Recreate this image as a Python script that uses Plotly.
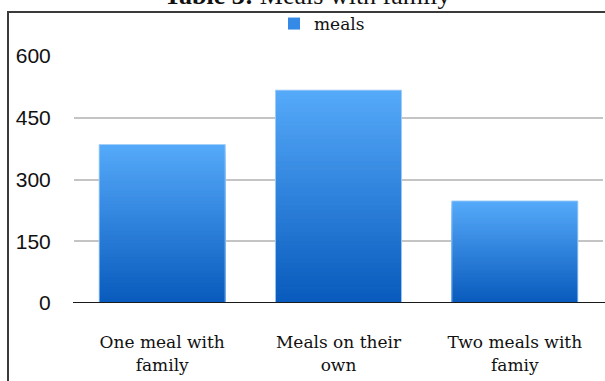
import plotly.graph_objects as go

# Chart data
categories = ["One meal with<br>family", "Meals on their<br>own", "Two meals with<br>famiy"]
meals = [385, 517, 248]
y_ticks = [0, 150, 300, 450, 600]

W, H = 605, 381
M_L, M_R, M_T, M_B = 74, 2, 56, 78
plot_w = W - M_L - M_R
plot_h = H - M_T - M_B

TOP_RGB = (86, 170, 250)
BOT_RGB = (8, 90, 188)
N_STEPS = 48


def lerp(c0, c1, t):
    return "rgb(%d,%d,%d)" % tuple(round(a + (b - a) * t) for a, b in zip(c0, c1))


def px_x(px):
    return (px - M_L) / plot_w


def px_y(py):
    return 1 - (py - M_T) / plot_h


fig = go.Figure()

# legend swatch trace, sits under the gradient
fig.add_trace(go.Bar(
    x=categories, y=meals, name="meals",
    marker=dict(color="rgb(52,138,230)", line=dict(width=0)),
    showlegend=True, hoverinfo="skip",
))

# vertical gradient: full-height light layer first, then shorter darker layers on top
for k in range(N_STEPS):
    frac = (N_STEPS - k) / N_STEPS
    t = frac - 0.5 / N_STEPS
    fig.add_trace(go.Bar(
        x=categories, y=[v * frac for v in meals],
        marker=dict(color=lerp(BOT_RGB, TOP_RGB, t), line=dict(width=0)),
        showlegend=False, hoverinfo="skip",
    ))

# thin pale outline round each bar
fig.add_trace(go.Bar(
    x=categories, y=meals,
    marker=dict(color="rgba(0,0,0,0)", line=dict(color="rgba(170,210,250,0.9)", width=1)),
    showlegend=False, hovertemplate="%{y}<extra>meals</extra>",
))

fig.update_layout(
    width=W, height=H,
    margin=dict(l=M_L, r=M_R, t=M_T, b=M_B, pad=0, autoexpand=False),
    paper_bgcolor="white", plot_bgcolor="white",
    barmode="overlay", bargap=0.285,
    showlegend=True,
    legend=dict(
        orientation="h", x=px_x(322), xanchor="center", y=px_y(24), yanchor="middle",
        font=dict(family="DejaVu Serif", size=17, color="#111"),
        itemwidth=30, bgcolor="rgba(0,0,0,0)",
    ),
    xaxis=dict(
        range=[-0.5, 2.5], showgrid=False, showline=False, zeroline=False,
        automargin=False,
        ticks="outside", ticklen=24, tickcolor="rgba(0,0,0,0)",
        tickfont=dict(family="DejaVu Serif", size=17, color="#111"),
    ),
    yaxis=dict(
        range=[0, 600], tickvals=y_ticks, ticktext=[str(v) for v in y_ticks],
        showgrid=True, gridcolor="#c4c4c4", gridwidth=1.6,
        zeroline=False, showline=False, automargin=False,
        ticks="outside", ticklen=18, tickcolor="rgba(0,0,0,0)",
        tickfont=dict(family="Liberation Sans", size=21, color="#111"),
    ),
    font=dict(family="Liberation Serif"),
    shapes=[
        # baseline along the category axis
        dict(type="line", xref="paper", yref="y", x0=px_x(73), x1=1.01, y0=0, y1=0,
             line=dict(color="#1a1a1a", width=2)),
        # chart frame
        dict(type="rect", xref="paper", yref="paper",
             x0=px_x(8), x1=1.2, y0=-0.6, y1=px_y(12),
             line=dict(color="#3a3a3a", width=2), fillcolor="rgba(0,0,0,0)", layer="above"),
    ],
    annotations=[
        dict(text="<b>Table 3:</b> Meals with family", xref="paper", yref="paper",
             x=px_x(307), y=px_y(0), xanchor="center", yanchor="bottom", yshift=-12,
             showarrow=False, font=dict(family="Liberation Serif", size=26, color="#111")),
    ],
)

fig.write_html("out.html")
